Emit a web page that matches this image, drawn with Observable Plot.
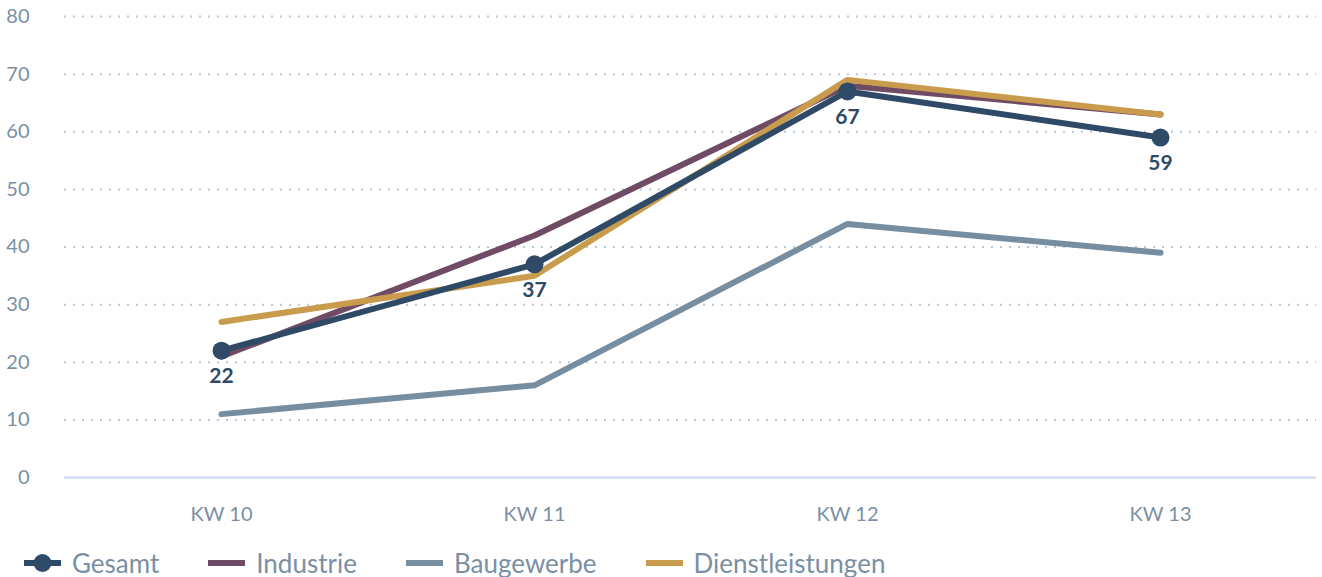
<!DOCTYPE html>
<html><head><meta charset="utf-8">
<script src="https://cdn.jsdelivr.net/npm/d3@7"></script>
<script src="https://cdn.jsdelivr.net/npm/@observablehq/plot@0.6"></script>
<style>
body{margin:0;background:#fff;font-family:"Source Sans Pro",Lato,"Noto Sans",sans-serif;}
#legend{display:flex;gap:49px;margin-left:24px;margin-top:10px;font-size:26px;color:#7a8fa4;align-items:center;}
.item{display:flex;align-items:center;gap:11px;}
</style></head><body>
<div id="chart"></div>
<div id="legend"></div>
<script>
const weeks = ["KW 10","KW 11","KW 12","KW 13"];
const seriesNames = ["Gesamt","Industrie","Baugewerbe","Dienstleistungen"];
const gesamt = [22,37,67,59];
const industrie = [21,42,68,63];
const baugewerbe = [11,16,44,39];
const dienstleistungen = [27,35,69,63];
const yTicks = [0,10,20,30,40,50,60,70,80];
const colors = {Gesamt:"#2e4a67",Industrie:"#6f4b66",Baugewerbe:"#778ea1",Dienstleistungen:"#c99b4c"};

const values = {Gesamt:gesamt,Industrie:industrie,Baugewerbe:baugewerbe,Dienstleistungen:dienstleistungen};
const drawOrder = ["Baugewerbe","Industrie","Dienstleistungen","Gesamt"];
const rows = drawOrder.flatMap(s => weeks.map((w,i)=>({series:s, week:w, value:values[s][i]})));
const gRows = weeks.map((w,i)=>({week:w, value:gesamt[i]}));

const chart = Plot.plot({
  width:1322, height:537,
  marginLeft:64, marginRight:6, marginTop:16, marginBottom:60,
  style:{fontFamily:'"Source Sans Pro",Lato,"Noto Sans",sans-serif', background:"#fff"},
  x:{type:"point", domain:weeks, padding:0.5, label:null},
  y:{domain:[0,80], ticks:yTicks, label:null},
  marks:[
    Plot.gridY(yTicks.filter(d=>d>0), {stroke:"#b9c7d6", strokeOpacity:1, strokeDasharray:"2,7", strokeWidth:2}),
    Plot.ruleY([0], {stroke:"#ccd5ea", strokeWidth:2}),
    Plot.axisY({ticks:yTicks, tickSize:0, tickPadding:35, fontSize:20, fill:"#7a8fa4", textAnchor:"end"}),
    Plot.axisX({tickSize:0, tickPadding:29, fontSize:20, fill:"#7a8fa4"}),
    Plot.line(rows, {x:"week", y:"value", z:"series", stroke:d=>colors[d.series], strokeWidth:6, strokeLinecap:"round", strokeLinejoin:"round"}),
    Plot.dot(gRows, {x:"week", y:"value", r:9, fill:colors.Gesamt}),
    Plot.text(gRows, {x:"week", y:"value", text:d=>String(d.value), dy:26, fontSize:21, fontWeight:"bold", fill:colors.Gesamt})
  ]
});
document.getElementById("chart").appendChild(chart);

const legend = document.getElementById("legend");
seriesNames.forEach(s=>{
  const item = document.createElement("div"); item.className="item";
  const sw = document.createElementNS("http://www.w3.org/2000/svg","svg");
  sw.setAttribute("width","37"); sw.setAttribute("height","20");
  sw.innerHTML = `<line x1="0" x2="37" y1="10" y2="10" stroke="${colors[s]}" stroke-width="6"/>` + (s==="Gesamt" ? `<circle cx="18.5" cy="10" r="9" fill="${colors[s]}"/>` : "");
  const t = document.createElement("span"); t.textContent = s;
  item.appendChild(sw); item.appendChild(t); legend.appendChild(item);
});
</script>
</body></html>
